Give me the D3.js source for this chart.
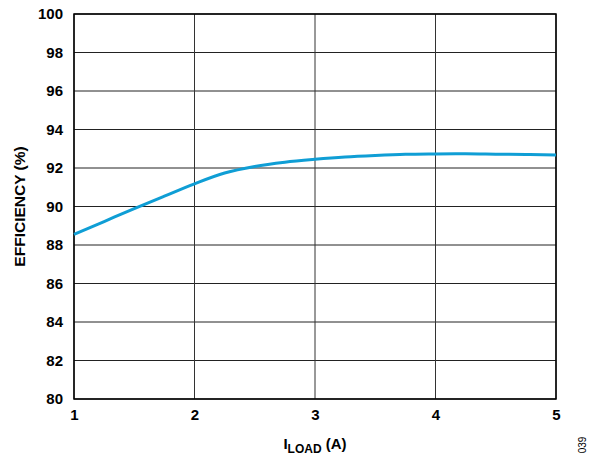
<!DOCTYPE html>
<html><head><meta charset="utf-8">
<script src="https://cdn.jsdelivr.net/npm/d3@7"></script>
<style>body{margin:0;background:#fff}</style>
</head><body>
<svg id="c" width="589" height="461"></svg>
<script>
const loadA = [1, 1.25, 1.5, 1.75, 2, 2.25, 2.5, 2.75, 3, 3.25, 3.5, 3.75, 4, 4.25, 4.5, 4.75, 5];
const efficiency = [88.55, 89.22, 89.89, 90.54, 91.18, 91.74, 92.08, 92.3, 92.45, 92.57, 92.65, 92.71, 92.73, 92.74, 92.72, 92.7, 92.67];
const xTicks = [1, 2, 3, 4, 5];
const yTicks = [80, 82, 84, 86, 88, 90, 92, 94, 96, 98, 100];

const svg = d3.select("#c");
const L = 74, R = 556, T = 14, B = 399;
const x = d3.scaleLinear().domain([1, 5]).range([L, R]);
const y = d3.scaleLinear().domain([80, 100]).range([B, T]);
const font = "'Liberation Sans', Arial, sans-serif";

// grid
svg.append("g").selectAll("line").data(yTicks).join("line")
  .attr("x1", L).attr("x2", R).attr("y1", d => y(d)).attr("y2", d => y(d))
  .attr("stroke", "#222").attr("stroke-width", 1);
svg.append("g").selectAll("line").data(xTicks).join("line")
  .attr("y1", T).attr("y2", B).attr("x1", d => x(d)).attr("x2", d => x(d))
  .attr("stroke", "#333").attr("stroke-width", 1);
svg.append("rect").attr("x", L).attr("y", T).attr("width", R - L).attr("height", B - T)
  .attr("fill", "none").attr("stroke", "#000").attr("stroke-width", 1.5);

// axes labels via d3 axes
const yAxis = svg.append("g").attr("transform", `translate(${L},0)`)
  .call(d3.axisLeft(y).tickValues(yTicks).tickSize(0).tickPadding(11));
const xAxis = svg.append("g").attr("transform", `translate(0,${B})`)
  .call(d3.axisBottom(x).tickValues(xTicks).tickSize(0).tickPadding(10).tickFormat(d3.format("d")));
[yAxis, xAxis].forEach(a => {
  a.select(".domain").remove();
  a.selectAll("text").attr("font-family", font).attr("font-weight", "bold")
    .attr("font-size", 15).attr("fill", "#000");
});

// line
svg.append("path").datum(loadA.map((d, i) => [d, efficiency[i]]))
  .attr("d", d3.line().x(d => x(d[0])).y(d => y(d[1])).curve(d3.curveMonotoneX))
  .attr("fill", "none").attr("stroke", "#0f9ed5").attr("stroke-width", 3);

// titles
const xt = svg.append("text").attr("x", (L + R) / 2).attr("y", 449).attr("text-anchor", "middle")
  .attr("font-family", font).attr("font-weight", "bold").attr("font-size", 15).attr("fill", "#000");
xt.append("tspan").text("I");
xt.append("tspan").attr("dy", 4).attr("font-size", 12).text("LOAD");
xt.append("tspan").attr("dy", -4).text(" (A)");

svg.append("text").attr("transform", `translate(25,${(T + B) / 2}) rotate(-90)`)
  .attr("text-anchor", "middle").attr("font-family", font).attr("font-weight", "bold")
  .attr("font-size", 15.5).attr("fill", "#000").text("EFFICIENCY (%)");

svg.append("text").attr("transform", "translate(586,445) rotate(-90)")
  .attr("text-anchor", "middle").attr("font-family", font)
  .attr("font-size", 10).attr("fill", "#000").text("039");
</script>
</body></html>
